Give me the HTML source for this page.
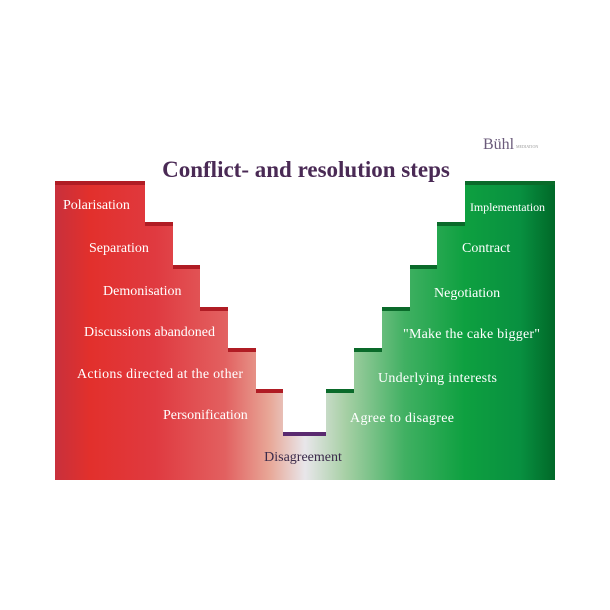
<!DOCTYPE html>
<html><head><style>
body{margin:0;width:610px;height:610px;background:#fff;overflow:hidden}
svg{display:block}
text{font-family:"Liberation Serif",serif}
</style></head><body>
<svg width="610" height="610" viewBox="0 0 610 610">
<defs>
<linearGradient id="g" x1="55" y1="0" x2="555" y2="0" gradientUnits="userSpaceOnUse">
<stop offset="0" stop-color="#c8303c"/>
<stop offset="0.07" stop-color="#e2302c"/>
<stop offset="0.2" stop-color="#e03a40"/>
<stop offset="0.34" stop-color="#e26060"/>
<stop offset="0.43" stop-color="#e8a898"/>
<stop offset="0.5" stop-color="#e8e6ea"/>
<stop offset="0.58" stop-color="#a8d0a6"/>
<stop offset="0.7" stop-color="#40b062"/>
<stop offset="0.82" stop-color="#0ea040"/>
<stop offset="0.93" stop-color="#089040"/>
<stop offset="1" stop-color="#006828"/>
</linearGradient>
</defs>
<polygon fill="url(#g)" points="55,182 145,182 145,223 173,223 173,266 200,266 200,308 228,308 228,349 256,349 256,390 283,390 283,433 326,433 326,390 354,390 354,349 382,349 382,308 410,308 410,266 437,266 437,223 465,223 465,182 555,182 555,480 55,480"/>
<g fill="#b01c24">
<rect x="55" y="181" width="90" height="4"/>
<rect x="145" y="222" width="28" height="4"/>
<rect x="173" y="265" width="27" height="4"/>
<rect x="200" y="307" width="28" height="4"/>
<rect x="228" y="348" width="28" height="4"/>
<rect x="256" y="389" width="27" height="4"/>
</g>
<rect x="283" y="432" width="43" height="4" fill="#5a2a70"/>
<g fill="#0a6a2a">
<rect x="326" y="389" width="28" height="4"/>
<rect x="354" y="348" width="28" height="4"/>
<rect x="382" y="307" width="28" height="4"/>
<rect x="410" y="265" width="27" height="4"/>
<rect x="437" y="222" width="28" height="4"/>
<rect x="465" y="181" width="90" height="4"/>
</g>
<text x="306" y="177" text-anchor="middle" font-size="23" font-weight="bold" fill="#4a2a55">Conflict- and resolution steps</text>
<text x="483" y="149" font-size="16" fill="#6a5a7a">Bühl</text>
<text x="516" y="148" font-size="4" fill="#999">MEDIATION</text>
<g fill="#fff" font-size="14">
<text x="63" y="209">Polarisation</text>
<text x="89" y="252">Separation</text>
<text x="103" y="295">Demonisation</text>
<text x="84" y="336" textLength="131">Discussions abandoned</text>
<text x="77" y="378" textLength="166">Actions directed at the other</text>
<text x="163" y="419">Personification</text>
<text x="470" y="211" font-size="12" textLength="75">Implementation</text>
<text x="462" y="252">Contract</text>
<text x="434" y="297">Negotiation</text>
<text x="403" y="338" textLength="137">"Make the cake bigger"</text>
<text x="378" y="382" textLength="119">Underlying interests</text>
<text x="350" y="422" textLength="104">Agree to disagree</text>
</g>
<text x="303" y="461" text-anchor="middle" font-size="14" fill="#3a2a4a">Disagreement</text>
</svg>
</body></html>
